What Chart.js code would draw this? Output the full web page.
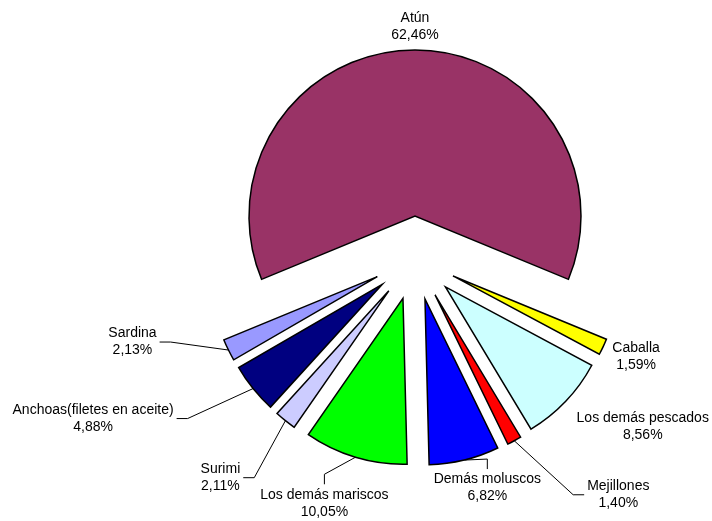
<!DOCTYPE html>
<html>
<head>
<meta charset="utf-8">
<script src="https://cdn.jsdelivr.net/npm/chart.js@4/dist/chart.umd.min.js"></script>
<style>
    body { margin: 0; background: #fff; }
    #wrap { width: 712px; height: 521px; }
</style>
</head>
<body>
<div id="wrap"><canvas id="pieChart"></canvas></div>
<script>
const categories = [
    'Atún',
    'Caballa',
    'Los demás pescados',
    'Mejillones',
    'Demás moluscos',
    'Los demás mariscos',
    'Surimi',
    'Anchoas(filetes en aceite)',
    'Sardina'
];
const shares = [62.46, 1.59, 8.56, 1.40, 6.82, 10.05, 2.11, 4.88, 2.13];

const sliceColors = ['#993366', '#ffff00', '#ccffff', '#ff0000', '#0000ff', '#00ff00', '#ccccff', '#000080', '#9999ff'];

// label centre relative to the outer edge of its slice, side = where the leader line enters the label
const labelLayout = [
    { dx: 0, dy: -23 },
    { dx: 33, dy: 10 },
    { dx: 77, dy: 25 },
    { dx: 104, dy: 54, side: 'left' },
    { dx: 23, dy: 28, side: 'top' },
    { dx: -31, dy: 46, side: 'top' },
    { dx: -65, dy: 57, side: 'right' },
    { dx: -160, dy: 30, side: 'right' },
    { dx: -96, dy: -8, side: 'right' }
];

const EXPLODE = 42;

const total = shares.reduce((a, b) => a + b, 0);

function formatPct(v) {
    return v.toFixed(2).replace('.', ',') + '%';
}

// pull every slice away from the centre by the same distance
const explodePlugin = {
    id: 'explode',
    afterDatasetUpdate(chart, args) {
        args.meta.data.forEach(arc => {
            const mid = (arc.startAngle + arc.endAngle) / 2;
            arc.x += Math.cos(mid) * EXPLODE;
            arc.y += Math.sin(mid) * EXPLODE;
        });
    }
};

const labelPlugin = {
    id: 'sliceLabels',
    afterDraw(chart) {
        const ctx = chart.ctx;
        const arcs = chart.getDatasetMeta(0).data;

        ctx.save();
        ctx.font = '14px "Liberation Sans", Arial, sans-serif';
        ctx.textAlign = 'center';
        ctx.textBaseline = 'middle';
        ctx.strokeStyle = '#000';
        ctx.lineWidth = 1;
        ctx.fillStyle = '#000';

        arcs.forEach((arc, i) => {
            const mid = (arc.startAngle + arc.endAngle) / 2;
            const ox = arc.x + Math.cos(mid) * arc.outerRadius;
            const oy = arc.y + Math.sin(mid) * arc.outerRadius;
            const lay = labelLayout[i];
            const lx = ox + lay.dx;
            const ly = oy + lay.dy;
            const name = categories[i];
            const pct = formatPct(shares[i]);

            if (lay.side) {
                const hw = Math.max(ctx.measureText(name).width, ctx.measureText(pct).width) / 2 + 3;
                let sx = lx, sy = ly, ex = lx, ey = ly;
                if (lay.side === 'right') {
                    sx = lx + hw; ex = sx + 11;
                } else if (lay.side === 'left') {
                    sx = lx - hw; ex = sx - 11;
                } else {
                    sy = ly - 19; ey = sy - 10;
                }
                ctx.beginPath();
                ctx.moveTo(sx, sy);
                ctx.lineTo(ex, ey);
                ctx.lineTo(ox, oy);
                ctx.stroke();
            }

            ctx.fillText(name, lx, ly - 8.5);
            ctx.fillText(pct, lx, ly + 8.5);
        });
        ctx.restore();
    }
};

const ctx = document.getElementById('pieChart').getContext('2d');

new Chart(ctx, {
    type: 'pie',
    data: {
        labels: categories,
        datasets: [{
            data: shares,
            backgroundColor: sliceColors,
            borderColor: '#000',
            borderWidth: 1.5,
            borderJoinStyle: 'miter'
        }]
    },
    options: {
        responsive: true,
        maintainAspectRatio: false,
        animation: false,
        events: [],
        radius: 166,
        rotation: -shares[0] / total * 180,
        layout: {
            padding: { left: 118, right: 0, top: 0, bottom: 5 }
        },
        plugins: {
            legend: { display: false },
            tooltip: { enabled: false }
        }
    },
    plugins: [explodePlugin, labelPlugin]
});
</script>
</body>
</html>
